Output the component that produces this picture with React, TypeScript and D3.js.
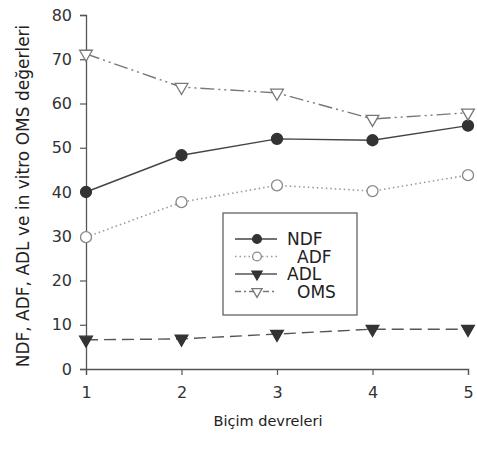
import { useEffect, useRef } from 'react';
import * as d3 from 'd3';

const CYCLES = [1, 2, 3, 4, 5];
const NDF = [40.0, 48.3, 52.0, 51.7, 55.0];
const ADF = [29.8, 37.7, 41.5, 40.2, 43.8];
const ADL = [6.6, 6.8, 7.9, 9.0, 9.0];
const OMS = [71.2, 63.7, 62.4, 56.5, 57.9];
const Y_TICKS = [0, 10, 20, 30, 40, 50, 60, 70, 80];

const WIDTH = 477;
const HEIGHT = 449;
const FONT = 'DejaVu Sans, Arial, sans-serif';

const SERIES = [
  { name: 'NDF', values: NDF, dash: null, legDash: null, color: '#444', width: 1.4, shape: 'circle', filled: true },
  { name: 'ADF', values: ADF, dash: '1.5,3', legDash: '1.5,3', color: '#999', width: 1.6, shape: 'circle', filled: false },
  { name: 'ADL', values: ADL, dash: '12,6', legDash: null, color: '#555', width: 1.4, shape: 'tri', filled: true },
  { name: 'OMS', values: OMS, dash: '14,4,2,4,2,4', legDash: '6,3,2,3', color: '#777', width: 1.4, shape: 'tri', filled: false },
];

export default function App() {
  const ref = useRef<SVGSVGElement>(null);

  useEffect(() => {
    const svg = d3.select(ref.current);
    svg.selectAll('*').remove();

    const x = d3.scaleLinear().domain([1, 5]).range([86, 468]);
    const y = d3.scaleLinear().domain([0, 80]).range([369, 15]);

    // axes
    const yAxis = svg.append('g').attr('transform', 'translate(86,0)')
      .call(d3.axisLeft(y).tickValues(Y_TICKS).tickSize(6).tickPadding(8));
    const xAxis = svg.append('g').attr('transform', 'translate(0,369)')
      .call(d3.axisBottom(x).tickValues(CYCLES).tickSize(6).tickPadding(12).tickFormat(d3.format('d')));
    [yAxis, xAxis].forEach(a => {
      a.select('.domain').attr('stroke', '#555').attr('stroke-width', 1.3);
      a.selectAll('.tick line').attr('stroke', '#555').attr('stroke-width', 1.2);
      a.selectAll('.tick text').attr('fill', '#333').style('font-family', FONT).style('font-size', '16px');
    });

    const drawMarker = (g: any, s: any, cx: number, cy: number, k = 1) => {
      if (s.shape === 'circle') {
        g.append('circle').attr('cx', cx).attr('cy', cy).attr('r', 5.5 * k)
          .attr('fill', s.filled ? '#333' : '#fff').attr('stroke', s.filled ? '#333' : '#888').attr('stroke-width', 1.3);
      } else {
        const tri = d3.symbol().type(d3.symbolTriangle).size(70 * k * k);
        g.append('path').attr('d', tri).attr('transform', `translate(${cx},${cy}) rotate(180)`)
          .attr('fill', s.filled ? '#333' : '#fff').attr('stroke', s.filled ? '#333' : '#777').attr('stroke-width', 1.3);
      }
    };

    const line = d3.line<number>().x((_, i) => x(CYCLES[i])).y(d => y(d));

    SERIES.forEach(s => {
      const g = svg.append('g');
      g.append('path').attr('d', line(s.values)).attr('fill', 'none')
        .attr('stroke', s.color).attr('stroke-width', s.width)
        .attr('stroke-dasharray', s.dash);
      s.values.forEach((v, i) => drawMarker(g, s, x(CYCLES[i]), y(v)));
    });

    // legend
    const lg = svg.append('g');
    lg.append('rect').attr('x', 223).attr('y', 213).attr('width', 134).attr('height', 102)
      .attr('fill', '#fff').attr('stroke', '#555').attr('stroke-width', 1.2);
    const textX = [287, 297, 287, 297];
    SERIES.forEach((s, i) => {
      const ly = 239 + i * 17.5;
      lg.append('line').attr('x1', 235).attr('x2', 277).attr('y1', ly).attr('y2', ly)
        .attr('stroke', s.color).attr('stroke-width', s.width).attr('stroke-dasharray', s.legDash);
      drawMarker(lg, s, 257, ly, 0.8);
      lg.append('text').attr('x', textX[i]).attr('y', ly).attr('dy', '0.36em')
        .attr('fill', '#222').style('font-family', FONT).style('font-size', '17px').text(s.name);
    });

    // labels
    svg.append('text').attr('transform', 'translate(29,196) rotate(-90)').attr('text-anchor', 'middle')
      .attr('fill', '#222').style('font-family', FONT).style('font-size', '17px')
      .text('NDF, ADF, ADL ve in vitro OMS değerleri');
    svg.append('text').attr('x', 268).attr('y', 426).attr('text-anchor', 'middle')
      .attr('fill', '#222').style('font-family', FONT).style('font-size', '14.5px')
      .text('Biçim devreleri');
  }, []);

  return (
    <svg ref={ref} width={WIDTH} height={HEIGHT}
      style={{ position: 'absolute', left: 0, top: 0, background: '#fff' }} />
  );
}
